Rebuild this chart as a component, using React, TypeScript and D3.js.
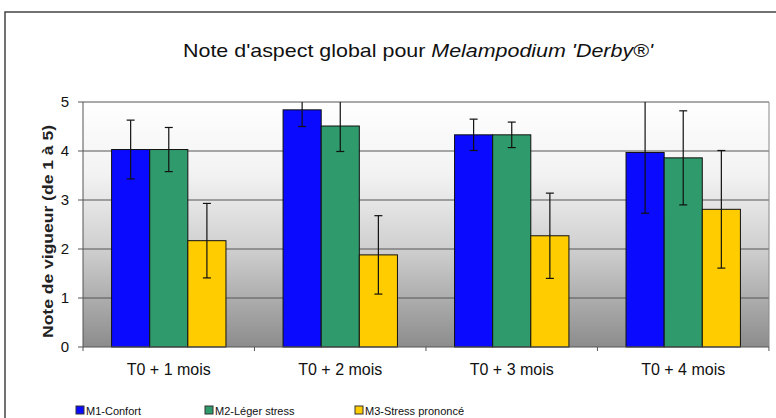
import React from 'react';
import * as d3 from 'd3';

const categories = ['T0 + 1 mois', 'T0 + 2 mois', 'T0 + 3 mois', 'T0 + 4 mois'];
const seriesNames = ['M1-Confort', 'M2-Léger stress', 'M3-Stress prononcé'];
const m1Values = [4.03, 4.84, 4.33, 3.97];
const m1Errors = [0.6, 0.34, 0.32, 1.24];
const m2Values = [4.03, 4.51, 4.33, 3.86];
const m2Errors = [0.45, 0.52, 0.26, 0.96];
const m3Values = [2.17, 1.88, 2.27, 2.81];
const m3Errors = [0.76, 0.8, 0.87, 1.2];
const yTicks = [0, 1, 2, 3, 4, 5];

const colors = ['#0a0aff', '#2f9a6b', '#ffcc00'];
const values = [m1Values, m2Values, m3Values];
const errors = [m1Errors, m2Errors, m3Errors];

const W = 776;
const H = 418;
const margin = {top: 102, right: 7, bottom: 71, left: 83};
const font = 'Liberation Sans, Arial, sans-serif';

export default function App() {
  const plotW = W - margin.left - margin.right;
  const plotH = H - margin.top - margin.bottom;

  const x0 = d3
    .scaleBand<string>()
    .domain(categories)
    .range([0, plotW])
    .paddingInner(0.333)
    .paddingOuter(0.1667);
  const x1 = d3
    .scaleBand<number>()
    .domain([0, 1, 2])
    .range([0, x0.bandwidth()]);
  const y = d3.scaleLinear().domain([0, 5]).range([plotH, 0]);

  const step = x0.step();
  const cap = 4;

  return (
    <svg
      width={W}
      height={H}
      style={{position: 'absolute', left: 0, top: 0, background: '#fff'}}
      fontFamily={font}
    >
      <defs>
        <linearGradient id="plot-bg" x1="0" y1="0" x2="0" y2="1">
          <stop offset="0%" stopColor="#ffffff" />
          <stop offset="30%" stopColor="#f2f2f2" />
          <stop offset="60%" stopColor="#cfcfcf" />
          <stop offset="100%" stopColor="#8c8c8c" />
        </linearGradient>
        <clipPath id="plot-clip">
          <rect x={-20} y={0} width={plotW + 40} height={plotH + 20} />
        </clipPath>
      </defs>

      {/* outer chart frame */}
      <path d={`M5,${H} V12 H${W}`} fill="none" stroke="#444" strokeWidth={1.5} />

      <text
        x={418}
        y={57}
        textAnchor="middle"
        fontSize={19}
        fill="#111"
        textLength={470}
        lengthAdjust="spacingAndGlyphs"
      >
        Note d'aspect global pour <tspan fontStyle="italic">Melampodium 'Derby®'</tspan>
      </text>

      <g transform={`translate(${margin.left},${margin.top})`}>
        <rect width={plotW} height={plotH} fill="url(#plot-bg)" />

        {/* grid lines */}
        {yTicks.slice(1).map((t) => (
          <line
            key={t}
            x1={0}
            x2={plotW}
            y1={y(t)}
            y2={y(t)}
            stroke="#555"
            strokeWidth={1}
          />
        ))}
        <line x1={plotW} x2={plotW} y1={0} y2={plotH} stroke="#888" />

        {/* bars */}
        {categories.map((c, ci) => (
          <g key={c} transform={`translate(${x0(c)},0)`}>
            {values.map((vals, si) => (
              <rect
                key={si}
                x={x1(si)}
                y={y(vals[ci])}
                width={x1.bandwidth()}
                height={plotH - y(vals[ci])}
                fill={colors[si]}
                stroke="#111"
                strokeWidth={1}
              />
            ))}
          </g>
        ))}

        {/* error bars */}
        <g clipPath="url(#plot-clip)">
          {categories.map((c, ci) =>
            values.map((vals, si) => {
              const cx = (x0(c) || 0) + (x1(si) || 0) + x1.bandwidth() / 2;
              const hi = y(vals[ci] + errors[si][ci]);
              const lo = y(vals[ci] - errors[si][ci]);
              return (
                <g key={`${ci}-${si}`} stroke="#111" strokeWidth={1.2}>
                  <line x1={cx} x2={cx} y1={hi} y2={lo} />
                  <line x1={cx - cap} x2={cx + cap} y1={hi} y2={hi} />
                  <line x1={cx - cap} x2={cx + cap} y1={lo} y2={lo} />
                </g>
              );
            }),
          )}
        </g>

        {/* axes */}
        <line x1={0} x2={0} y1={0} y2={plotH} stroke="#555" />
        <line x1={0} x2={plotW} y1={plotH} y2={plotH} stroke="#555" />
        {yTicks.map((t) => (
          <g key={t}>
            <line x1={-5} x2={0} y1={y(t)} y2={y(t)} stroke="#555" />
            <text
              x={-14}
              y={y(t)}
              dy="0.35em"
              textAnchor="end"
              fontSize={15}
              fill="#111"
            >
              {t}
            </text>
          </g>
        ))}
        {d3.range(categories.length + 1).map((i) => (
          <line
            key={i}
            x1={i * step}
            x2={i * step}
            y1={plotH}
            y2={plotH + 4}
            stroke="#555"
          />
        ))}
        {categories.map((c) => (
          <text
            key={c}
            x={(x0(c) || 0) + x0.bandwidth() / 2}
            y={plotH + 28}
            textAnchor="middle"
            fontSize={16}
            fill="#111"
          >
            {c}
          </text>
        ))}
        <text
          transform={`translate(-30,${plotH / 2 + 7}) rotate(-90)`}
          textAnchor="middle"
          fontSize={14}
          fontWeight="bold"
          fill="#222"
          textLength={213}
          lengthAdjust="spacingAndGlyphs"
        >
          Note de vigueur (de 1 à 5)
        </text>
      </g>

      {/* legend */}
      {seriesNames.map((name, i) => {
        const lx = [76, 205, 355][i];
        return (
          <g key={name} transform={`translate(${lx},411)`}>
            <rect x={0} y={-5} width={8} height={8} fill={colors[i]} stroke="#333" />
            <text x={10} y={0} dy="0.35em" fontSize={11} fill="#111">
              {name}
            </text>
          </g>
        );
      })}
    </svg>
  );
}
